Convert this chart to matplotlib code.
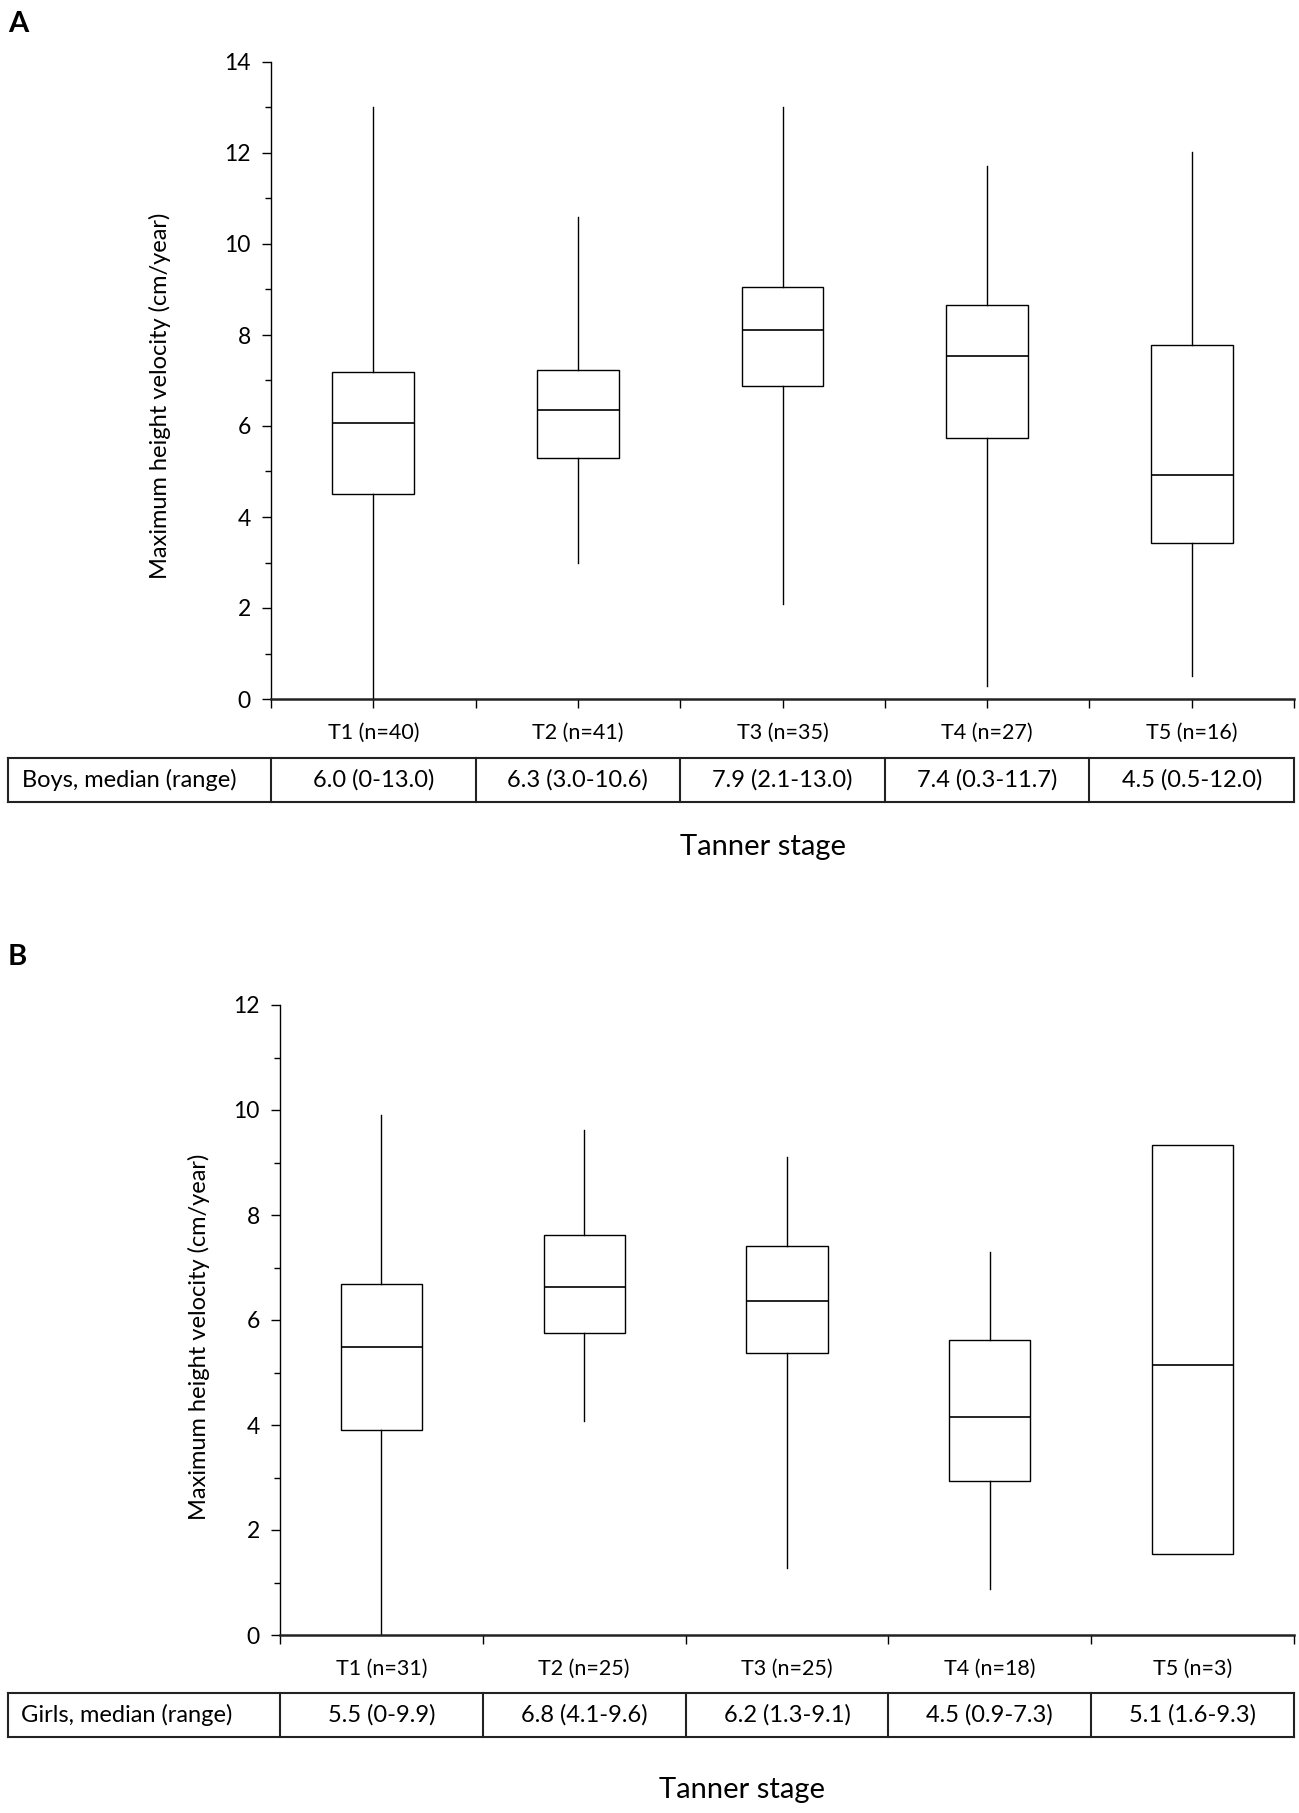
#!/usr/bin/env python3
"""Maximum height velocity by Tanner stage, boys (A) and girls (B)."""

import matplotlib
matplotlib.use('Agg')
import matplotlib.pyplot as plt
from matplotlib.ticker import MultipleLocator, FixedLocator
from matplotlib.transforms import blended_transform_factory

plt.rcParams['font.family'] = ['Lato', 'DejaVu Sans']

# ── Data ──────────────────────────────────────────────────────────────────
stages = ['T1', 'T2', 'T3', 'T4', 'T5']

boys_n = [40, 41, 35, 27, 16]
boys_whislo = [0.0, 3.00, 2.08, 0.29, 0.50]
boys_q1 = [4.50, 5.30, 6.89, 5.73, 3.43]
boys_med = [6.06, 6.35, 8.12, 7.54, 4.93]
boys_q3 = [7.18, 7.24, 9.06, 8.65, 7.78]
boys_whishi = [13.0, 10.60, 13.0, 11.71, 12.02]
boys_table = ['6.0 (0-13.0)', '6.3 (3.0-10.6)', '7.9 (2.1-13.0)',
              '7.4 (0.3-11.7)', '4.5 (0.5-12.0)']

girls_n = [31, 25, 25, 18, 3]
girls_whislo = [0.0, 4.08, 1.28, 0.88, 1.55]
girls_q1 = [3.90, 5.75, 5.38, 2.93, 1.55]
girls_med = [5.48, 6.62, 6.36, 4.16, 5.15]
girls_q3 = [6.68, 7.61, 7.41, 5.62, 9.33]
girls_whishi = [9.91, 9.62, 9.10, 7.30, 9.33]
girls_table = ['5.5 (0-9.9)', '6.8 (4.1-9.6)', '6.2 (1.3-9.1)',
               '4.5 (0.9-7.3)', '5.1 (1.6-9.3)']

W, H = 1299, 1813
fig = plt.figure(figsize=(W / 100, H / 100), dpi=100)


def px_axes(left, top, right, bottom):
    return fig.add_axes([left / W, 1 - bottom / H, (right - left) / W, (bottom - top) / H])


def draw_panel(ax, ymax, n, lo, q1, med, q3, hi, table_vals, row_label,
               center_ticks, tab_left, lab_x, ylab_x, ylab_y, xlab_x, xlab_y):
    stats = []
    for i in range(len(stages)):
        stats.append(dict(med=med[i], q1=q1[i], q3=q3[i],
                          whislo=lo[i], whishi=hi[i], fliers=[]))
    pos = list(range(len(stages)))
    ax.bxp(stats, positions=pos, widths=0.4, showcaps=False, showfliers=False,
           patch_artist=True,
           boxprops=dict(facecolor='white', edgecolor='black', linewidth=1.0),
           whiskerprops=dict(color='black', linewidth=1.0),
           medianprops=dict(color='black', linewidth=1.2))

    ax.set_xlim(-0.5, len(stages) - 0.5)
    ax.set_ylim(0, ymax)
    for s in ['top', 'right']:
        ax.spines[s].set_visible(False)
    ax.spines['left'].set_linewidth(1.0)
    ax.spines['bottom'].set_linewidth(1.8)
    ax.spines['bottom'].set_color('#222222')

    ax.yaxis.set_major_locator(MultipleLocator(2))
    ax.yaxis.set_minor_locator(MultipleLocator(1))
    ax.tick_params(axis='y', which='major', direction='out', length=6.5,
                   width=1.0, labelsize=16.5, pad=8)
    ax.tick_params(axis='y', which='minor', direction='out', length=4, width=1.0)

    ax.set_xticks(pos)
    ax.set_xticklabels([f'{s} (n={k})' for s, k in zip(stages, n)])
    bounds = [p - 0.5 for p in pos] + [pos[-1] + 0.5]
    ax.xaxis.set_minor_locator(FixedLocator(bounds))
    ax.tick_params(axis='x', which='major', direction='out', length=6.5,
                   width=1.0 if center_ticks else 0, labelsize=15.5, pad=11)
    ax.tick_params(axis='x', which='minor', direction='out', length=6.5, width=1.0)

    ax.text(ylab_x, ylab_y, 'Maximum height velocity (cm/year)', rotation=90,
            transform=ax.transAxes, ha='center', va='center', fontsize=17)

    # table under the axis
    top, bot = -0.0924, -0.1618
    blend = blended_transform_factory(ax.transData, ax.transAxes)
    for y in (top, bot):
        ax.plot([tab_left, 1], [y, y], transform=ax.transAxes, color='#222222',
                lw=1.5, clip_on=False)
    ax.plot([tab_left, tab_left], [top, bot], transform=ax.transAxes,
            color='#222222', lw=1.5, clip_on=False)
    for b in bounds:
        ax.plot([b, b], [top, bot], transform=blend, color='#222222',
                lw=1.5, clip_on=False)
    mid = (top + bot) / 2
    ax.text(lab_x, mid, row_label, transform=ax.transAxes, ha='left',
            va='center', fontsize=17)
    for p, v in zip(pos, table_vals):
        ax.text(p, mid, v, transform=blend, ha='center', va='center', fontsize=17)

    ax.text(xlab_x, xlab_y, 'Tanner stage', transform=ax.transAxes,
            ha='center', va='center', fontsize=21)


ax_a = px_axes(271, 62, 1294, 699)
draw_panel(ax_a, 14, boys_n, boys_whislo, boys_q1, boys_med, boys_q3, boys_whishi,
           boys_table, 'Boys, median (range)', True,
           tab_left=(8 - 271) / 1023, lab_x=(22 - 271) / 1023,
           ylab_x=(160 - 271) / 1023, ylab_y=0.476,
           xlab_x=(763 - 271) / 1023, xlab_y=-(847 - 699) / 637)

ax_b = px_axes(280, 1005, 1294, 1635)
draw_panel(ax_b, 12, girls_n, girls_whislo, girls_q1, girls_med, girls_q3, girls_whishi,
           girls_table, 'Girls, median (range)', False,
           tab_left=(8 - 280) / 1014, lab_x=(21 - 280) / 1014,
           ylab_x=(199 - 280) / 1014, ylab_y=0.473,
           xlab_x=(742 - 280) / 1014, xlab_y=-(1790 - 1635) / 630)

fig.text(8 / W, 1 - 24 / H, 'A', fontsize=21, fontweight='bold', ha='left', va='center')
fig.text(8 / W, 1 - 957 / H, 'B', fontsize=21, fontweight='bold', ha='left', va='center')

fig.savefig('out.png', dpi=100)
plt.close(fig)
